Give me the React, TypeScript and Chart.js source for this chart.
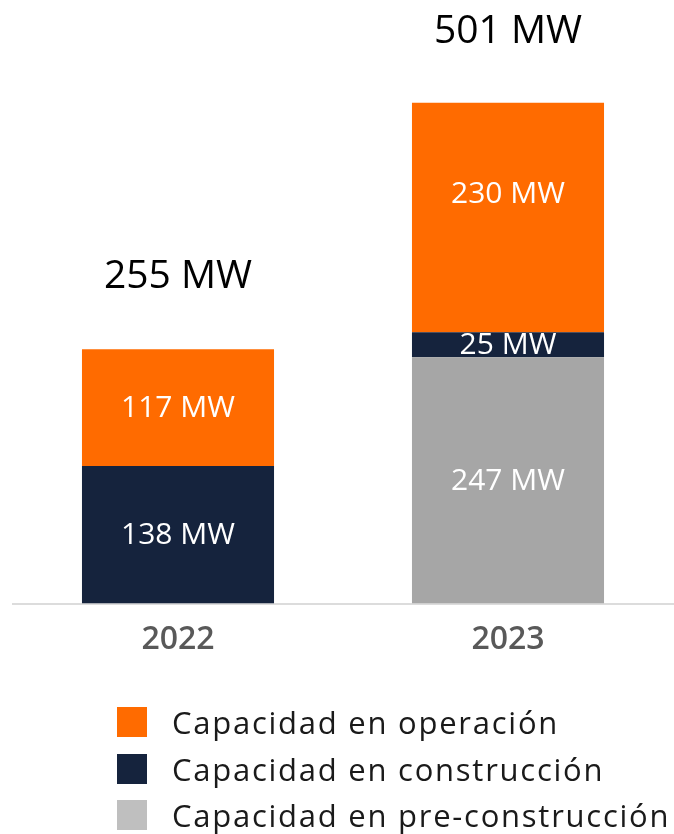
import React, { useEffect, useRef } from "react";
import { Chart, registerables } from "chart.js";

Chart.register(...registerables);

const categories = ["2022", "2023"];
const seriesNames = [
  "Capacidad en pre-construcción",
  "Capacidad en construcción",
  "Capacidad en operación",
];
const preConstruccion = [0, 247];
const construccion = [138, 25];
const operacion = [117, 230];
const totals = [255, 501];

const barColors = ["#A6A6A6", "#15233D", "#FF6B00"];
const legendColors = ["#FF6B00", "#15233D", "#BFBFBF"];
const legendNames = [seriesNames[2], seriesNames[1], seriesNames[0]];

const FONT = "'Open Sans', sans-serif";

// label placement tweak: "230 MW" sits in the upper part of its segment
const labelShift: Record<string, number> = { "2-1": -24 };

const labelPlugin = {
  id: "mwLabels",
  afterDatasetsDraw(chart: any) {
    const ctx = chart.ctx;
    ctx.save();
    ctx.textAlign = "center";
    ctx.textBaseline = "middle";
    ctx.fillStyle = "#ffffff";
    ctx.font = `400 30px ${FONT}`;
    chart.data.datasets.forEach((ds: any, di: number) => {
      const meta = chart.getDatasetMeta(di);
      meta.data.forEach((el: any, i: number) => {
        const v = ds.data[i];
        if (!v) return;
        const yMid = (el.y + el.base) / 2 + (labelShift[`${di}-${i}`] || 0);
        ctx.fillText(`${v} MW`, el.x, yMid + 1);
      });
    });
    ctx.fillStyle = "#000000";
    ctx.font = `400 39px ${FONT}`;
    const yScale = chart.scales.y;
    const meta0 = chart.getDatasetMeta(0);
    totals.forEach((t, i) => {
      const x = meta0.data[i].x;
      const y = yScale.getPixelForValue(t) - 72;
      ctx.fillText(`${t} MW`, x, y);
    });
    ctx.restore();
  },
};

export default function App() {
  const canvasRef = useRef<HTMLCanvasElement | null>(null);

  useEffect(() => {
    document.body.style.margin = "0";
    const canvas = canvasRef.current;
    if (!canvas) return;
    const chart = new Chart(canvas, {
      type: "bar",
      data: {
        labels: categories,
        datasets: [
          { label: seriesNames[0], data: preConstruccion, backgroundColor: barColors[0] },
          { label: seriesNames[1], data: construccion, backgroundColor: barColors[1] },
          { label: seriesNames[2], data: operacion, backgroundColor: barColors[2] },
        ],
      },
      options: {
        animation: false,
        responsive: false,
        maintainAspectRatio: false,
        layout: { padding: { left: 13, right: 1, top: 5, bottom: 158 } },
        datasets: {
          bar: { barPercentage: 0.582, categoryPercentage: 1, borderWidth: 0 },
        },
        plugins: {
          legend: { display: false },
          tooltip: { enabled: false },
        },
        scales: {
          x: {
            stacked: true,
            grid: { display: false, drawTicks: false },
            border: { display: true, color: "#DCDCDC", width: 2 },
            ticks: {
              color: "#595959",
              font: { family: FONT, size: 32, weight: "600" },
              padding: 17,
            },
          },
          y: {
            stacked: true,
            display: false,
            min: 0,
            max: 600,
          },
        },
      },
      plugins: [labelPlugin],
    });
    return () => chart.destroy();
  }, []);

  return (
    <div style={{ position: "absolute", left: 0, top: 0, width: 674, height: 834, background: "#fff" }}>
      <canvas ref={canvasRef} width={674} height={834} style={{ display: "block" }} />
      <div style={{ position: "absolute", left: 117, top: 707, fontFamily: FONT }}>
        {legendNames.map((n, i) => (
          <div key={n} style={{ display: "flex", alignItems: "center", height: 30, marginBottom: 16.5 }}>
            <span style={{ width: 30, height: 30, background: legendColors[i], display: "inline-block", flex: "none" }} />
            <span style={{ marginLeft: 25, fontSize: 31, letterSpacing: 1.75, color: "#1a1a1a", whiteSpace: "nowrap", lineHeight: "30px" }}>{n}</span>
          </div>
        ))}
      </div>
    </div>
  );
}
